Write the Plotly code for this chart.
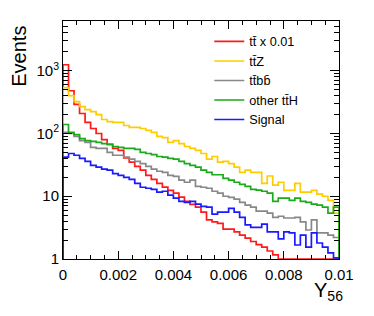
import numpy as np
import plotly.graph_objects as go

# ---- data (50 bins from 0 to 0.01) ----
bin_lo = 0.0
bin_hi = 0.01
n_bins = 50

tt_x001 = [1245, 480, 290, 208, 150, 120, 100, 80, 67, 58,
           54, 41, 35, 30, 26, 21.5, 18.6, 16, 14, 12.4,
           11.2, 9.7, 8.3, 7.4, 6.7, 5.6, 4.2, 3.9, 3.7, 3.0,
           3.0, 2.7, 2.4, 2.15, 1.9, 1.7, 1.55, 1.34, 1.16, 0,
           0, 0, 0, 0, 0, 0, 0, 0, 0, 0]
ttZ = [537, 401, 322, 268, 240, 223, 200, 167, 155, 150,
       150, 134, 125, 125, 120, 112, 104, 90, 86, 72,
       77, 69, 62, 58, 54, 48, 39, 43, 35, 36,
       33, 29, 24, 26, 24, 24, 16, 21, 15, 16.7,
       12.4, 12.4, 16, 11.6, 11.6, 12.4, 10.8, 10, 8.6, 5.4]
ttbb = [104, 100, 90, 77, 72, 60, 58, 58, 50, 45,
        45, 42, 39, 36, 33, 30, 27, 25, 24, 21.5,
        20.8, 18, 16.7, 18, 14.4, 13.9, 13.4, 12, 11.2, 10,
        9.6, 9.0, 8.0, 7.2, 6.7, 5.8, 5.8, 5.4, 4.6, 4.8,
        4.5, 4.5, 4.6, 3.9, 2.9, 4.2, 2.6, 2.6, 2.4, 2.2]
other_ttH = [139, 104, 96, 83, 77, 75, 72, 69, 67, 62,
             60, 58, 58, 56, 50, 48, 46, 43, 42, 40,
             39, 36, 33, 31, 29, 26, 24, 22, 22, 19.3,
             18, 16.7, 15.5, 14.4, 12.9, 12.5, 12, 11.2, 8.3, 9.3,
             9.3, 8.6, 9.3, 8.3, 8.0, 7.5, 7.2, 6.7, 5.4, 6.7]
signal = [42, 48, 45, 40, 36, 31, 29, 27, 26, 23,
          21.5, 20, 18.6, 16, 13.9, 13.4, 12.9, 11.6, 12, 10.4,
          9.3, 8.3, 8.0, 8.3, 7.5, 6.9, 6.7, 5.2, 5.6, 5.6,
          6.4, 5.6, 4.6, 3.5, 3.2, 3.2, 3.6, 2.7, 2.7, 2.1,
          2.7, 2.6, 1.67, 2.4, 1.55, 2.6, 1.8, 1.55, 1.25, 1.04]

series_names = ["tt\u0304 x 0.01", "tt\u0304Z", "tt\u0304bb\u0304", "other tt\u0304H", "Signal"]
series_values = [tt_x001, ttZ, ttbb, other_ttH, signal]
series_colors = ["#ff1a1a", "#ffcc00", "#888888", "#1aaa1a", "#1a1aff"]

x_tickvals = [0, 0.002, 0.004, 0.006, 0.008, 0.01]
x_ticktext = ["0", "0.002", "0.004", "0.006", "0.008", "0.01"]
y_tickvals = [1, 10, 100, 1000]
y_ticktext = ["1", "10", "10<sup>2</sup>", "10<sup>3</sup>"]

y_min = 1.0
y_max = 6200.0

edges = np.linspace(bin_lo, bin_hi, n_bins + 1)

fig = go.Figure()
for name, vals, col in zip(series_names, series_values, series_colors):
    v = np.maximum(np.array(vals, dtype=float), y_min)
    xs = np.concatenate([[edges[0]], edges[:-1], [edges[-1], edges[-1]]])
    ys = np.concatenate([[y_min], v, [v[-1], y_min]])
    fig.add_trace(go.Scatter(x=xs, y=ys, mode="lines", name=name,
                             line=dict(color=col, width=1.7, shape="hv")))

font = "Liberation Sans, Arial, Helvetica, sans-serif"
minor_y = [m * 10 ** d for d in range(4) for m in range(2, 10)]

# page body has an 8px margin; figure sized to fit the 374x316 window
fig.update_layout(
    width=358, height=300,
    margin=dict(l=55, r=22, t=12, b=49),
    paper_bgcolor="white", plot_bgcolor="white",
    font=dict(family=font, color="black", size=15),
    showlegend=True,
    legend=dict(x=0.53, y=0.976, xanchor="left", yanchor="top",
                bgcolor="rgba(0,0,0,0)", font=dict(size=12.7, family=font),
                itemwidth=30, tracegroupgap=0),
    xaxis=dict(range=[bin_lo, bin_hi], showline=True, linecolor="black", linewidth=1,
               mirror="allticks", ticks="inside", ticklen=8, tickcolor="black",
               tickvals=x_tickvals, ticktext=x_ticktext, showgrid=False, zeroline=False,
               tickfont=dict(size=15), ticklabelstandoff=2,
               minor=dict(ticks="inside", ticklen=4, dtick=0.0005, tickcolor="black", showgrid=False)),
    yaxis=dict(type="log", range=[np.log10(y_min), np.log10(y_max)], showline=True,
               linecolor="black", linewidth=1, mirror="allticks", ticks="inside",
               ticklen=9, tickcolor="black", tickvals=y_tickvals, ticktext=y_ticktext,
               showgrid=False, zeroline=False, tickfont=dict(size=15),
               minor=dict(ticks="inside", ticklen=5, tickvals=minor_y, tickcolor="black", showgrid=False)),
)

fig.add_annotation(text="Events", textangle=-90, xref="paper", yref="paper",
                   x=-0.16, y=0.99, xanchor="center", yanchor="top", showarrow=False,
                   font=dict(size=20, family=font))
fig.add_annotation(text="Y<sub>56</sub>", xref="paper", yref="paper",
                   x=1.022, y=-0.074, xanchor="right", yanchor="top", showarrow=False,
                   font=dict(size=20, family=font))

fig.write_html("out.html")
